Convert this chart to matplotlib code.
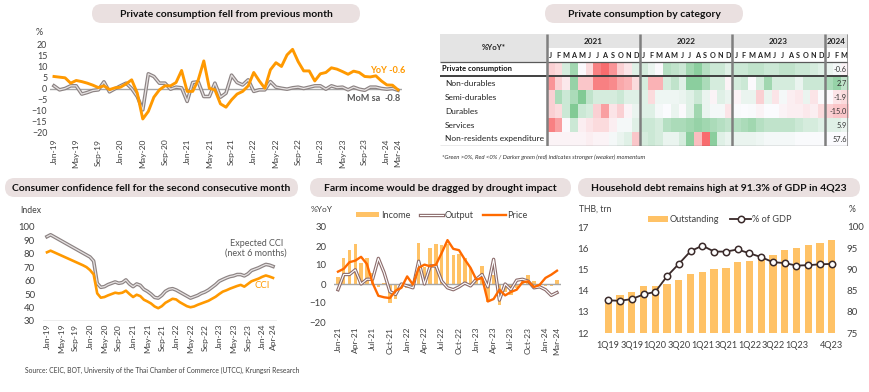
import matplotlib
matplotlib.use('Agg')
import matplotlib.pyplot as plt
import numpy as np
import pandas as pd
from matplotlib.patches import FancyBboxPatch, Rectangle
from matplotlib.colors import LinearSegmentedColormap
import matplotlib.patheffects as pe

# ---------------- DATA ----------------
# Chart 1: Private consumption (Jan-19 .. Mar-24)
pc_months = pd.date_range('2019-01-01', periods=63, freq='MS').strftime('%b-%y').tolist()
pc_yoy = [5.4, 5.1, 4.8, 2.4, 3.6, 3.1, 2.4, 1.5, 0.4, 1.2, -0.5, 0.3,
          0.6, 2.1, 3.9, -2.0, -13.7, -10.3, -3.9, -0.6, 1.2, 1.2, 2.7, 8.1,
          -1.3, -1.3, 3.9, 12.4, 0.1, -0.6, -6.9, -8.4, -5.1, -2.5, -1.3, 1.2,
          7.2, 3.4, 0.1, 8.4, 11.6, 9.9, 15.1, 17.6, 12.1, 7.9, 7.9, 3.4,
          6.6, 7.2, 9.3, 8.7, 7.6, 6.4, 7.8, 7.2, 5.4, 5.2, 5.7, 3.4,
          1.6, 1.5, -0.6]
pc_mom = [1.2, -0.6, 0.0, 1.2, 1.2, -2.5, -1.8, -0.9, -0.6, 3.0, -1.5, -0.1,
          1.2, 2.4, 0.0, -3.6, -9.6, 6.6, 5.4, 2.4, 2.4, -0.3, 0.6, 0.3,
          -5.8, 2.7, 3.0, -3.6, -3.6, 2.4, -3.9, -2.1, 6.0, 2.7, 1.6, 3.9,
          -1.3, -0.6, -0.6, 3.1, 0.6, 0.1, -0.3, 0.3, 0.6, 0.0, 0.6, 1.2,
          1.2, -0.3, 1.2, 0.4, 0.6, -0.6, 0.6, -0.3, -0.8, 0.6, 0.6, 0.0,
          -0.3, 0.0, -0.8]
pc_ticks = list(range(0, 61, 4)) + [62]

# Chart 2: heatmap (Jan-21 .. Mar-24), colour intensity (+ green / - red)
hm_rows = ['Private consumption', 'Non-durables', 'Semi-durables', 'Durables',
           'Services', 'Non-residents expenditure']
hm_years = ['2021', '2022', '2023', '2024']
hm_year_len = [12, 12, 12, 3]
hm_month_letters = list('JFMAMJJASOND') * 3 + list('JFM')
hm_priv = [-0.2, -0.15, 0.2, 0.45, 0, -0.15, -0.6, -0.7, -0.5, -0.2, -0.1, 0.15,
           0.2, 0.1, 0, 0.35, 0.3, 0.25, 0.45, 0.55, 0.35, 0.25, 0.25, 0.15,
           0.25, 0.25, 0.3, 0.3, 0.25, 0.25, 0.3, 0.3, 0.25, 0.25, 0.2, 0.15,
           0.1, 0.05, -0.03]
hm_nondur = [-0.5, -0.2, -0.08, 0.5, -0.25, -0.25, -0.6, -0.6, -0.55, -0.4, -0.35, -0.15,
             0.2, -0.35, -0.35, 0.2, 0.3, 0.15, 0.55, 0.55, 0.4, 0.2, 0.2, -0.03,
             0.2, 0.25, 0, 0.2, 0.45, 0.2, 0.2, 0.2, 0.1, 0.25, 0.25, 0.25,
             0.4, 0.5, 0.3]
hm_semi = [-0.2, 0.4, 0.25, 0.4, 0.6, 0.3, 0.2, 0.2, 0.2, 0.25, 0.15, 0.15,
           0.15, -0.15, 0.08, 0.08, 0.08, 0.1, 0.15, 0.25, 0.1, -0.03, 0.15, 0.1,
           -0.03, 0.1, 0.1, -0.2, 0.1, -0.1, 0.05, -0.05, -0.08, 0.1, -0.1, 0.03,
           0.0, -0.1, -0.15]
hm_dur = [-0.2, -0.15, 0.25, 0.6, 0.25, 0.2, -0.2, -0.45, -0.1, -0.2, -0.03, 0.1,
          0.15, 0.15, 0.05, 0.02, 0.1, 0.0, 0.15, 0.45, 0.1, 0.05, 0.05, -0.1,
          0.03, 0.02, 0.03, -0.03, 0.02, 0.02, -0.03, -0.05, -0.05, -0.08, -0.05, -0.15,
          -0.2, -0.25, -0.25]
hm_serv = [-0.6, -0.45, 0, 0.25, -0.05, -0.1, -0.15, -0.15, -0.05, 0.05, 0.05, 0.15,
           0.25, 0.25, 0.2, 0.35, 0.4, 0.4, 0.45, 0.5, 0.45, 0.4, 0.35, 0.3,
           0.35, 0.4, 0.45, 0.35, 0.3, 0.3, 0.3, 0.3, 0.25, 0.2, 0.2, 0.15,
           0.15, 0.15, 0.1]
hm_nonres = [-0.03, -0.03, -0.03, -0.03, -0.03, -0.05, -0.03, -0.03, 0.05, 0.1, 0.15, -0.25,
             0.2, 0.25, 0.2, 0.1, 0.1, 0.2, 0.55, -0.3, -0.7, 0.55, 0.15, 0.1,
             0.1, 0.1, 0.1, 0.08, 0.05, 0.05, 0.05, 0.05, 0.03, 0.03, 0.03, 0.03,
             0.02, 0.02, 0.02]
hm_latest = ['-0.6', '2.7', '-1.9', '-15.0', '5.9', '57.6']

# Chart 3: Consumer confidence (Jan-19 .. Apr-24)
cc_months = pd.date_range('2019-01-01', periods=64, freq='MS').strftime('%b-%y').tolist()
cci = [81.0, 82.2, 81.0, 79.8, 78.6, 77.4, 76.2, 75.0, 73.8, 72.6, 71.4, 70.0,
       67.8, 64.6, 50.5, 47.3, 47.8, 49.0, 50.0, 51.0, 50.5, 51.0, 52.5, 50.0,
       47.8, 49.5, 48.5, 45.8, 44.5, 43.0, 40.8, 39.5, 41.0, 43.5, 45.0, 46.5,
       46.0, 44.0, 42.5, 41.0, 40.2, 40.8, 42.0, 43.0, 44.0, 45.0, 46.5, 48.0,
       50.0, 51.8, 52.8, 54.0, 55.0, 56.0, 56.8, 55.5, 57.5, 59.5, 60.5, 61.5,
       62.8, 63.8, 63.0, 62.0]
cci_exp = [92.6, 94.0, 92.5, 91.0, 89.5, 88.0, 86.5, 85.0, 83.5, 82.0, 80.5, 79.0,
           77.5, 74.5, 58.0, 55.0, 55.5, 57.0, 58.0, 59.0, 58.0, 58.5, 60.5, 57.5,
           55.5, 57.5, 56.5, 53.5, 52.0, 50.0, 47.5, 47.0, 49.0, 52.0, 53.5, 54.0,
           53.0, 51.5, 50.0, 48.5, 47.0, 48.0, 49.0, 50.5, 51.5, 53.0, 55.0, 57.0,
           59.5, 60.8, 62.0, 63.0, 63.5, 64.5, 64.5, 63.5, 65.0, 67.5, 68.5, 69.5,
           70.8, 72.0, 71.5, 70.5]
cc_ticks = list(range(0, 61, 4)) + [63]

# Chart 4: Farm income (Jan-21 .. Mar-24)
fi_months = pd.date_range('2021-01-01', periods=39, freq='MS').strftime('%b-%y').tolist()
fi_income = [3.5, 13.8, 17.8, 20.8, 11.0, 13.8, 5.8, -1.8, 0.3, -10.0, -8.0, -2.0,
             -2.0, -1.0, 21.7, 9.0, 19.0, 20.8, 20.5, 20.8, 15.5, 16.0, 13.8, 8.5,
             3.5, 9.7, -9.5, 4.6, -11.0, -4.0, -5.6, -2.0, 2.3, 4.6, 1.5, -1.0,
             -1.0, -1.0, 2.1]
fi_output = [-3.0, 5.0, 5.0, 7.5, 0.0, 2.5, 2.5, 13.5, 6.0, -4.0, -5.5, 0.0,
             -1.0, -2.0, 12.0, 0.0, 9.5, 9.5, 1.5, -2.0, -3.0, -1.5, 0.5, -1.0,
             2.5, 5.0, -1.5, 13.0, -8.5, 0.0, -3.0, 2.0, 2.5, 1.5, -2.0, -1.5,
             -3.0, -6.0, -4.5]
fi_price = [6.5, 8.0, 11.5, 12.3, 14.3, 10.6, 0.5, -6.2, -7.0, -7.4, -3.5, -2.0,
            4.0, -0.3, 8.5, 10.2, 9.3, 10.2, 16.4, 23.1, 18.5, 17.8, 12.9, 8.5,
            2.3, 3.2, -9.2, -7.9, -3.0, -6.0, -4.2, -3.0, 0.9, 1.4, -1.6, -0.4,
            3.2, 4.9, 7.0]
fi_ticks = list(range(0, 37, 3)) + [38]

# Chart 5: Household debt (1Q19 .. 4Q23)
hh_quarters = [f'{q}Q{y}' for y in range(19, 24) for q in range(1, 5)]
hh_outstanding = [13.6, 13.8, 13.95, 14.2, 14.22, 14.3, 14.48, 14.78, 14.88, 15.02,
                  15.08, 15.33, 15.41, 15.55, 15.7, 15.9, 16.0, 16.13, 16.23, 16.39]
hh_gdp = [82.7, 82.6, 83.0, 84.1, 84.7, 88.4, 91.3, 94.3, 95.6, 94.2,
          94.2, 94.7, 93.8, 92.9, 91.7, 91.5, 90.9, 91.0, 91.2, 91.3]
hh_ticks = [0, 2, 4, 6, 8, 10, 12, 14, 16, 19]

# ---------------- STYLE ----------------
plt.rcParams['font.family'] = ['Lato', 'DejaVu Sans']
W, H = 870, 392
ORANGE = '#FF9900'
PRICE = '#FF6A00'
BAR = '#FFC266'
TXT = '#404040'
ZERO = '#A6A6A6'
TITLEBG = '#EAE0E0'

fig = plt.figure(figsize=(W / 100, H / 100), dpi=100)


def add_ax(l, t, r, b, **kw):
    return fig.add_axes([l / W, 1 - b / H, (r - l) / W, (b - t) / H], **kw)


# overlay for titles / free text (pixel units)
ov = add_ax(0, 0, W, H)
ov.set_xlim(0, W)
ov.set_ylim(H, 0)
ov.axis('off')
ov.set_zorder(-1)


def title_box(x0, x1, y0, y1, text):
    ov.add_patch(FancyBboxPatch((x0, y0), x1 - x0, y1 - y0,
                                boxstyle='round,pad=0,rounding_size=9.5',
                                fc=TITLEBG, ec='none'))
    ov.text((x0 + x1) / 2, (y0 + y1) / 2 + 0.5, text, ha='center', va='center',
            fontsize=7.5, fontweight='bold', color='#111111')


title_box(92, 360, 4, 23, 'Private consumption fell from previous month')
title_box(545, 743, 4, 23, 'Private consumption by category')
title_box(5, 298, 178, 197, 'Consumer confidence fell for the second consecutive month')
title_box(310, 571, 178, 197, 'Farm income would be dragged by drought impact')
title_box(578, 860, 178, 197, 'Household debt remains high at 91.3% of GDP in 4Q23')


def clean(ax):
    for s in ax.spines.values():
        s.set_visible(False)
    ax.tick_params(length=0, colors=TXT)
    ax.set_facecolor('none')


def double_line(ax, x, y, outer, inner='white', lw_out=2.6, lw_in=0.9, **kw):
    return ax.plot(x, y, color=inner, lw=lw_in,
                   path_effects=[pe.Stroke(linewidth=lw_out, foreground=outer), pe.Normal()], **kw)


# ---------- Chart 1 ----------
ax1 = add_ax(50, 44, 402, 133)
clean(ax1)
x1 = np.arange(len(pc_yoy))
ax1.axhline(0, color=ZERO, lw=1, zorder=1)
double_line(ax1, x1, pc_mom, outer='#8C8383', inner='#E6E2E2', lw_out=2.6, lw_in=0.9, zorder=2)
ax1.plot(x1, pc_yoy, color=ORANGE, lw=2.1, zorder=3)
ax1.set_xlim(-0.72, 62.72)
ax1.set_ylim(-20, 20)
ax1.set_yticks(range(-20, 21, 5))
ax1.tick_params(axis='y', labelsize=6.4, pad=2)
ax1.set_xticks(pc_ticks)
ax1.set_xticklabels([pc_months[i] for i in pc_ticks], rotation=90, fontsize=6.1)
ax1.tick_params(axis='x', pad=4)
ov.text(39, 32, '%', fontsize=6.4, color=TXT, ha='center', va='center')
ax1.text(57.0, 8.3, f'YoY {pc_yoy[-1]}', color=ORANGE, fontsize=6.6, fontweight='bold', va='center')
ax1.text(52.8, -4.7, 'MoM sa', color='#595959', fontsize=6.6, fontweight='bold', va='center')
ax1.text(59.5, -4.7, f'{pc_mom[-1]}', color='#595959', fontsize=6.6, fontweight='bold', va='center')

# ---------- Chart 2: heatmap table ----------
lab_w = 107 / 7.72
axt = add_ax(440, 34, 848, 146)
axt.set_xlim(-lab_w, 39)
axt.set_ylim(6, -2)
axt.axis('off')
cmap = LinearSegmentedColormap.from_list('rwg', ['#F8696B', '#FCFCFF', '#63BE7B'])
data = np.array([hm_priv, hm_nondur, hm_semi, hm_dur, hm_serv, hm_nonres])
axt.imshow(data, cmap=cmap, vmin=-0.72, vmax=0.75, extent=(0, 39, 6, 0),
           aspect='auto', interpolation='nearest', zorder=1)
axt.add_patch(Rectangle((-lab_w, -2), lab_w, 2, fc='#E4E4E4', ec='none', zorder=0))
axt.add_patch(Rectangle((0, -2), 39, 1, fc='#E4E4E4', ec='none', zorder=0))
axt.text(-lab_w / 2, -1, '%YoY*', ha='center', va='center', fontsize=5.6, fontweight='bold', color='#222222')
start = 0
for yr, n in zip(hm_years, hm_year_len):
    axt.text(start + n / 2, -1.45, yr, ha='center', va='center', fontsize=5.9,
             fontweight='bold', color='#222222')
    start += n
for i, m in enumerate(hm_month_letters):
    axt.text(i + 0.5, -0.45, m, ha='center', va='center', fontsize=5.2,
             fontweight='bold', color='#222222')
for r, name in enumerate(hm_rows):
    if r == 0:
        axt.text(-lab_w + 0.25, r + 0.5, name, ha='left', va='center', fontsize=5.4,
                 fontweight='bold', color='#111111')
    else:
        axt.text(-lab_w + 0.65, r + 0.5, name, ha='left', va='center', fontsize=6.0,
                 color='#222222')
    axt.text(38.85, r + 0.55, hm_latest[r], ha='right', va='center', fontsize=5.3, color='#333333', zorder=5)
axt.hlines([0, 6], -lab_w, 39, color='#595959', lw=0.9, zorder=4)
axt.hlines([1], -lab_w, 39, color='#404040', lw=1.4, zorder=4)
axt.vlines([0, 12, 24, 36, 39], -2, 6, color='#7F7F7F', lw=1.8, zorder=4)
ov.text(442, 157, '*Green >0%, Red <0% / Darker green (red) indicates stronger (weaker) momentum',
        fontsize=4.3, style='italic', color='#333333', va='center')

# ---------- Chart 3 ----------
ax3 = add_ax(43.4, 226.7, 276.6, 321)
clean(ax3)
x3 = np.arange(len(cci))
ax3.axhline(30, color=ZERO, lw=1, zorder=1)
double_line(ax3, x3, cci_exp, outer='#8C8383', inner='#E6E2E2', lw_out=2.6, lw_in=0.9, zorder=2)
ax3.plot(x3, cci, color=ORANGE, lw=1.9, zorder=3)
ax3.set_xlim(-1, 64)
ax3.set_ylim(30, 100)
ax3.set_yticks(range(30, 101, 10))
ax3.tick_params(axis='y', labelsize=6.9, pad=6)
ax3.set_xticks(cc_ticks)
ax3.set_xticklabels([cc_months[i] for i in cc_ticks], rotation=90, fontsize=6.1)
ax3.tick_params(axis='x', pad=2)
ov.text(20, 210, 'Index', fontsize=6.2, color=TXT, ha='left', va='center')
ax3.text(58.3, 83.8, 'Expected CCI\n(next 6 months)', color='#595959', fontsize=6.5,
         ha='center', va='center', linespacing=1.1)
ax3.text(57.8, 56.7, 'CCI', color=ORANGE, fontsize=6.8, ha='left', va='center')
ov.text(25, 370, 'Source: CEIC, BOT, University of the Thai Chamber of Commerce (UTCC), Krungsri Research',
        fontsize=4.9, color='#404040', va='center')

# ---------- Chart 4 ----------
ax4 = add_ax(338 - 0.7 * 5.763, 227, 557 + 0.7 * 5.763, 322)
clean(ax4)
x4 = np.arange(len(fi_income))
bars4 = ax4.bar(x4, fi_income, width=0.6, color=BAR, zorder=1, label='Income')
ax4.axhline(0, color=ZERO, lw=1, zorder=2)
out4, = double_line(ax4, x4, fi_output, outer='#8B6B6B', inner='white', lw_out=2.4, lw_in=0.8, zorder=3,
                    label='Output')
pr4, = ax4.plot(x4, fi_price, color=PRICE, lw=1.7, zorder=4, label='Price')
ax4.set_xlim(-0.7, 38.7)
ax4.set_ylim(-20, 30)
ax4.set_yticks(range(-20, 31, 10))
ax4.tick_params(axis='y', labelsize=6.9, pad=5.5)
ax4.set_xticks(fi_ticks)
ax4.set_xticklabels([fi_months[i] for i in fi_ticks], rotation=90, fontsize=6.1)
ax4.tick_params(axis='x', pad=3.5)
ov.text(311, 209, '%YoY', fontsize=6.0, color=TXT, ha='left', va='center')
ax4.legend([bars4, out4, pr4], ['Income', 'Output', 'Price'], loc='center',
           bbox_to_anchor=(442 / W, 1 - 215 / H), bbox_transform=fig.transFigure,
           ncol=3, frameon=False, fontsize=6.6, handlelength=2.5, handletextpad=0.2,
           columnspacing=1.0, handleheight=0.5, borderpad=0, labelcolor=TXT)

# ---------- Chart 5 ----------
ax5 = add_ax(600, 227, 840, 333)
clean(ax5)
x5 = np.arange(len(hh_outstanding))
bars5 = ax5.bar(x5, hh_outstanding, width=0.62, color=BAR, zorder=1, label='Outstanding')
ax5.set_xlim(-0.7, 19.7)
ax5.set_ylim(12, 17)
ax5.set_yticks(range(12, 18))
ax5.tick_params(axis='y', labelsize=7.0, pad=8)
ax5.set_xticks(hh_ticks)
ax5.set_xticklabels([hh_quarters[i] for i in hh_ticks], fontsize=6.6)
ax5.tick_params(axis='x', pad=6)
ax5b = ax5.twinx()
clean(ax5b)
gdp5, = ax5b.plot(x5, hh_gdp, color='#3A2A2A', lw=1.3, marker='o', ms=4.6, mfc='white',
                  mec='#3A2A2A', mew=1.1, zorder=3, label='% of GDP')
ax5b.set_ylim(75, 100)
ax5b.set_yticks(range(75, 101, 5))
ax5b.tick_params(axis='y', labelsize=7.0, pad=5)
ov.text(579, 209, 'THB, trn', fontsize=6.2, color=TXT, ha='left', va='center')
ov.text(852, 209, '%', fontsize=6.2, color=TXT, ha='center', va='center')
ax5b.legend([bars5, gdp5], ['Outstanding', '% of GDP'], loc='center',
            bbox_to_anchor=(720 / W, 1 - 220 / H),
            bbox_transform=fig.transFigure, ncol=2, frameon=False, fontsize=6.6,
            handlelength=2.2, handletextpad=0.2, columnspacing=1.2, borderpad=0,
            labelcolor=TXT)

fig.savefig('out.png', dpi=100, facecolor='white')
